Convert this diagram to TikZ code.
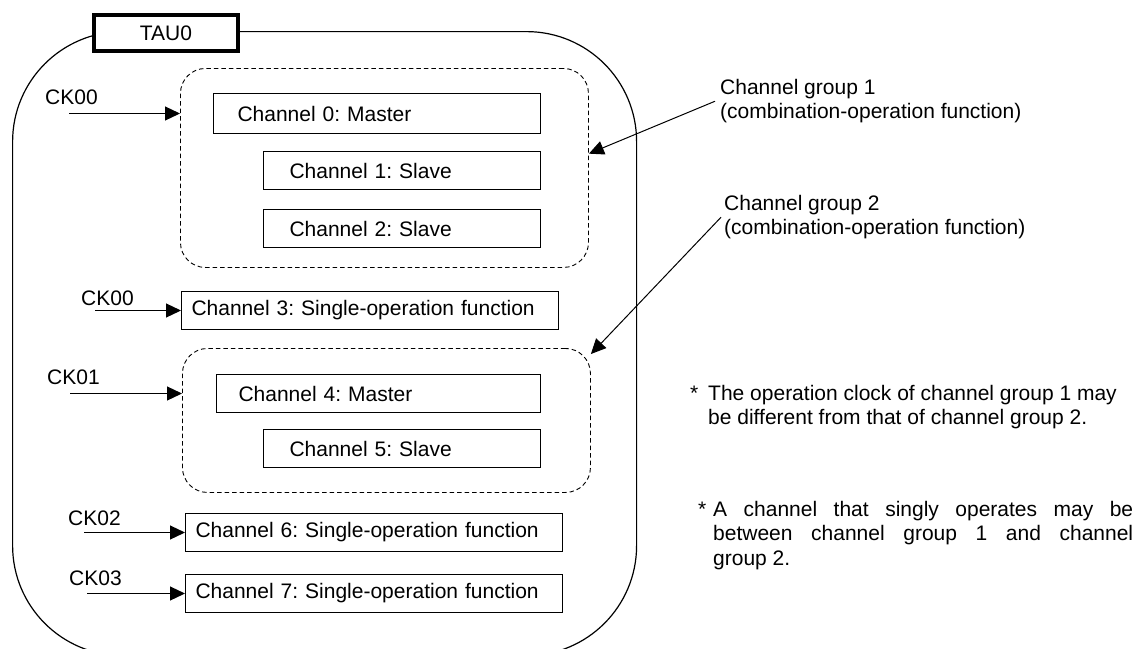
\documentclass[tikz,border=0pt]{standalone}
\usepackage{fontspec}
\setmainfont{Liberation Sans}
\usepackage{tikz}
\usetikzlibrary{arrows.meta}
\newcommand{\LabelFont}{\fontsize{21}{24.5}\selectfont\frenchspacing}
\hyphenpenalty=10000
\exhyphenpenalty=10000
\tolerance=10000

\begin{document}
\begin{tikzpicture}[x=1pt,y=-1pt,font=\LabelFont,
    chbox/.style={draw,line width=1pt,anchor=north west,align=left,inner ysep=0pt},
    grpbox/.style={draw,dash pattern=on 4.5pt off 3pt,line width=0.9pt,rounded corners=25pt,anchor=north west,inner sep=0pt},
    clk/.style={-{Triangle[length=15pt,width=14pt]},line width=1.2pt},
    lbl/.style={inner sep=0pt}]
          \path[use as bounding box] (0,0) rectangle (1137,648);
          \clip (0,0) rectangle (1137,648);
          % unit frame
          \node[draw,line width=1.2pt,rounded corners=110pt,minimum width=624pt,minimum height=624pt,anchor=north west,inner sep=0pt] (tau) at (12,31) {};
          \node[draw,line width=3.4pt,fill=white,minimum width=144pt,minimum height=36pt,inner sep=0pt] (tauname) at (166,33) {TAU0};
          % channel groups
          \node[grpbox,minimum width=408pt,minimum height=199pt] (grp1) at (180,68) {};
          \node[grpbox,minimum width=408pt,minimum height=144pt] (grp2) at (182,348) {};
          \node[chbox,text width=279pt,inner xsep=24pt,minimum height=40pt] (ch0) at (213,93) {Channel 0: Master};
          \node[chbox,text width=225pt,inner xsep=26pt,minimum height=38pt] (ch1) at (263,151) {Channel 1: Slave};
          \node[chbox,text width=225pt,inner xsep=26pt,minimum height=38pt] (ch2) at (263,209) {Channel 2: Slave};
          \node[chbox,text width=357pt,inner xsep=10pt,minimum height=38pt] (ch3) at (181,291) {Channel 3: Single-operation function};
          \node[chbox,text width=280pt,inner xsep=22pt,minimum height=38pt] (ch4) at (216,374) {Channel 4: Master};
          \node[chbox,text width=225pt,inner xsep=26pt,minimum height=38pt] (ch5) at (263,429) {Channel 5: Slave};
          \node[chbox,text width=357pt,inner xsep=10pt,minimum height=38pt] (ch6) at (185,513) {Channel 6: Single-operation function};
          \node[chbox,text width=357pt,inner xsep=10pt,minimum height=38pt] (ch7) at (185,574) {Channel 7: Single-operation function};
          % operation clocks
          \node[lbl,anchor=base west] (ck00a) at (45,104) {CK00};
          \node[lbl,anchor=base west] (ck00b) at (81,305) {CK00};
          \node[lbl,anchor=base west] (ck01) at (47,384) {CK01};
          \node[lbl,anchor=base west] (ck02) at (68,525) {CK02};
          \node[lbl,anchor=base west] (ck03) at (69,585) {CK03};
          \draw[clk] (ch0.west -| 69,0) -- (ch0.west -| grp1.west);
          \draw[clk] (ch4.west -| 70,0) -- (ch4.west -| grp2.west);
          \foreach \ch/\x in {ch3/95,ch6/84,ch7/87}
            \draw[clk] (\ch.west -| \x,0) -- (\ch.west);
          % call-outs
          \node[lbl,anchor=north west,align=left] (grp1lbl) at (720,79) {Channel group 1\\(combination-operation function)};
          \node[lbl,anchor=north west,align=left] (grp2lbl) at (724,195) {Channel group 2\\(combination-operation function)};
          \draw[clk,line width=1pt] ([xshift=-5pt]grp1lbl.west) -- (grp1.4);
          \draw[clk,line width=1pt] ([xshift=-3pt]grp2lbl.west) -- (grp2.18);
          \node[lbl,anchor=north west,align=left] (note1) at (708,385) {\llap{*\hspace{10pt}}The operation clock of channel group 1 may\\be different from that of channel group 2.};
          \node[lbl,anchor=north west,text width=420pt,align=justify] (note2) at (713,501) {\llap{*\hspace{7pt}}A channel that singly operates may be between channel group 1 and channel\linebreak group 2.};
        \end{tikzpicture}
\end{document}
